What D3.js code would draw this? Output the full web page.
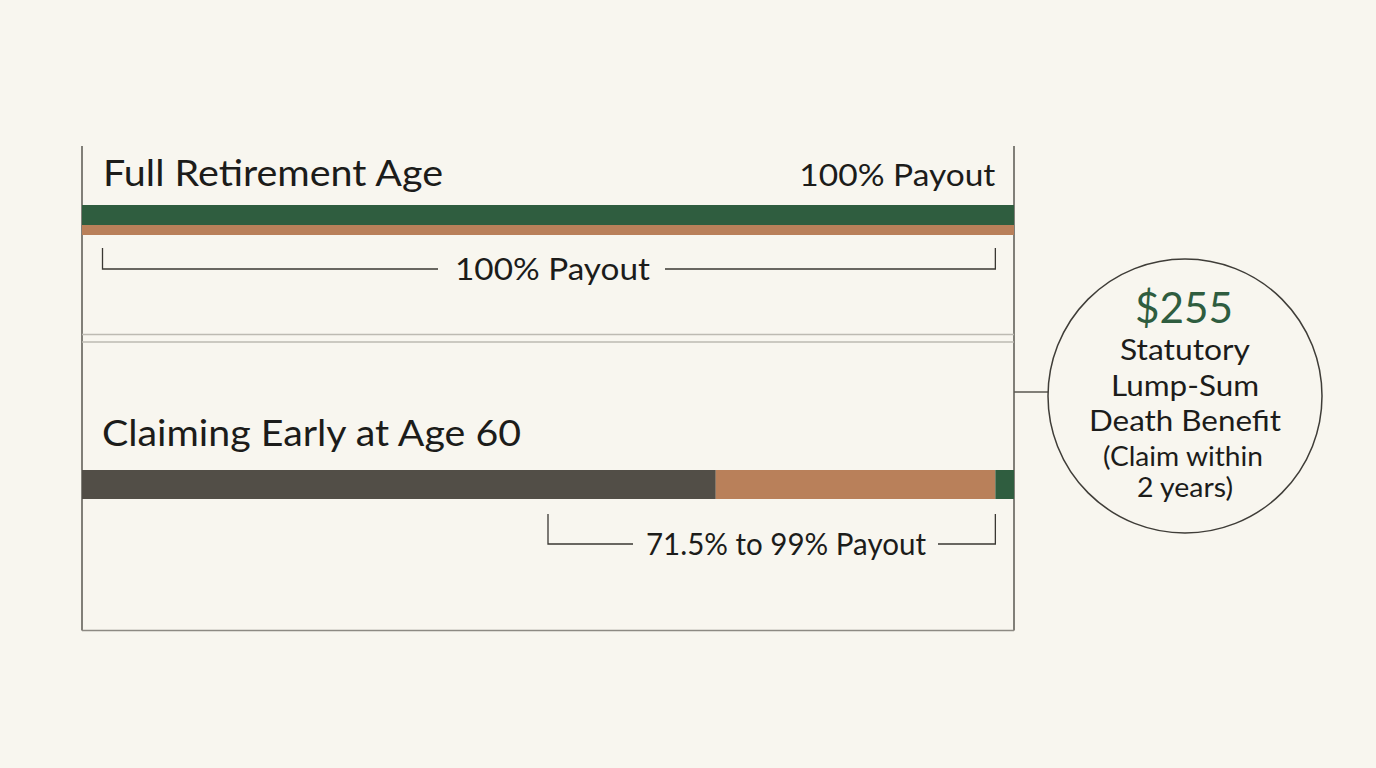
<!DOCTYPE html>
<html><head><meta charset="utf-8">
<script src="https://cdn.jsdelivr.net/npm/d3@7"></script>
<style>
html,body{margin:0;padding:0;background:#f7f5ee;}
svg{display:block;font-family:Lato,"Noto Sans",sans-serif;}
</style></head>
<body><svg id="chart" width="1376" height="768"></svg>
<script>
// ---- data ----
const scenarios = ["Full Retirement Age", "Claiming Early at Age 60"];
const headerPayout = ["100% Payout"];
// top scenario: [start, end] in % of the full-benefit scale
const fullMonthly = [0, 100];
const fullSurvivor = [0, 100];
// early scenario segments
const earlyReduced = [0, 68];
const earlySurvivor = [68, 98];
const earlyLumpSum = [98, 100];
// payout brackets [start, end] and labels
const bracketRanges = [[2.2, 98], [50, 98]];
const bracketLabels = ["100% Payout", "71.5% to 99% Payout"];
// lump sum callout
const lumpSumValue = "$255";
const lumpSumLines = ["Statutory", "Lump-Sum", "Death Benefit", "(Claim within", "2 years)"];

// ---- drawing ----
const svg = d3.select("#chart");
const x = d3.scaleLinear().domain([0, 100]).range([82, 1014]);
const colors = {green: "#2f5d3f", copper: "#b9805a", dark: "#524e47", ink: "#1c1c1a", frame: "#5a5750", divider: "#bdbab2"};

svg.append("rect").attr("width", 1376).attr("height", 768).attr("fill", "#f8f6ef");

// text helper: left x, baseline y, font size, rendered width
function txt(str, left, y, size, width, fill) {
  return svg.append("text").attr("x", left).attr("y", y).attr("font-size", size)
    .attr("textLength", width).attr("lengthAdjust", "spacingAndGlyphs")
    .attr("fill", fill || colors.ink).text(str);
}

// frame
const frame = svg.append("g").attr("fill", "none").attr("stroke", colors.frame).attr("stroke-width", 1.5);
frame.append("line").attr("x1", x(0)).attr("x2", x(0)).attr("y1", 146).attr("y2", 630.5);
frame.append("line").attr("x1", x(100)).attr("x2", x(100)).attr("y1", 146).attr("y2", 630.5);
frame.append("line").attr("x1", x(0)).attr("x2", x(100)).attr("y1", 630.5).attr("y2", 630.5).attr("stroke", "#8d8a83");
// divider double line
[334.5, 342].forEach(yv => svg.append("line").attr("x1", x(0)).attr("x2", x(100)).attr("y1", yv).attr("y2", yv)
  .attr("stroke", colors.divider).attr("stroke-width", 1.5));

// titles
txt(scenarios[0], 103, 186, 36, 340);
txt(scenarios[1], 102, 446, 37, 419);
txt(headerPayout[0], x(98) - 196, 186, 30, 196);

// bars
function seg(r, y0, h, c) {
  svg.append("rect").attr("x", x(r[0])).attr("width", x(r[1]) - x(r[0])).attr("y", y0).attr("height", h).attr("fill", c);
}
seg(fullMonthly, 205, 20, colors.green);
seg(fullSurvivor, 225, 10, colors.copper);
seg(earlyReduced, 470, 29, colors.dark);
seg(earlySurvivor, 470, 29, colors.copper);
seg(earlyLumpSum, 470, 29, colors.green);

// brackets (layout: tick top, line y, label left, label width, gaps)
const bracketLayout = [
  {yt: 248, yb: 269, left: 455, w: 195, gl: 17, gr: 15, base: 280},
  {yt: 514, yb: 544, left: 646, w: 280, gl: 13, gr: 12, base: 555}
];
bracketRanges.forEach((r, i) => {
  const L = bracketLayout[i];
  txt(bracketLabels[i], L.left, L.base, 30, L.w);
  const p = `M${x(r[0])},${L.yt}V${L.yb}H${L.left - L.gl}M${L.left + L.w + L.gr},${L.yb}H${x(r[1])}V${L.yt}`;
  svg.append("path").attr("d", p).attr("fill", "none").attr("stroke", "#3a3833").attr("stroke-width", 1.3);
});

// callout
const cx = 1185, cy = 396, rad = 137;
svg.append("line").attr("x1", x(100)).attr("x2", cx - rad).attr("y1", 392).attr("y2", 392).attr("stroke", colors.frame).attr("stroke-width", 1.5);
svg.append("circle").attr("cx", cx).attr("cy", cy).attr("r", rad).attr("fill", "none").attr("stroke", "#3f3d38").attr("stroke-width", 1.5);
txt(lumpSumValue, 1135, 323, 42, 98, colors.green);
const lineLayout = [
  {left: 1120, w: 130, y: 360, s: 29},
  {left: 1111, w: 148, y: 396, s: 29},
  {left: 1089, w: 192, y: 431, s: 29},
  {left: 1103, w: 160, y: 466, s: 26},
  {left: 1137, w: 96, y: 497, s: 26}
];
lumpSumLines.forEach((l, i) => txt(l, lineLayout[i].left, lineLayout[i].y, lineLayout[i].s, lineLayout[i].w));
</script></body></html>
